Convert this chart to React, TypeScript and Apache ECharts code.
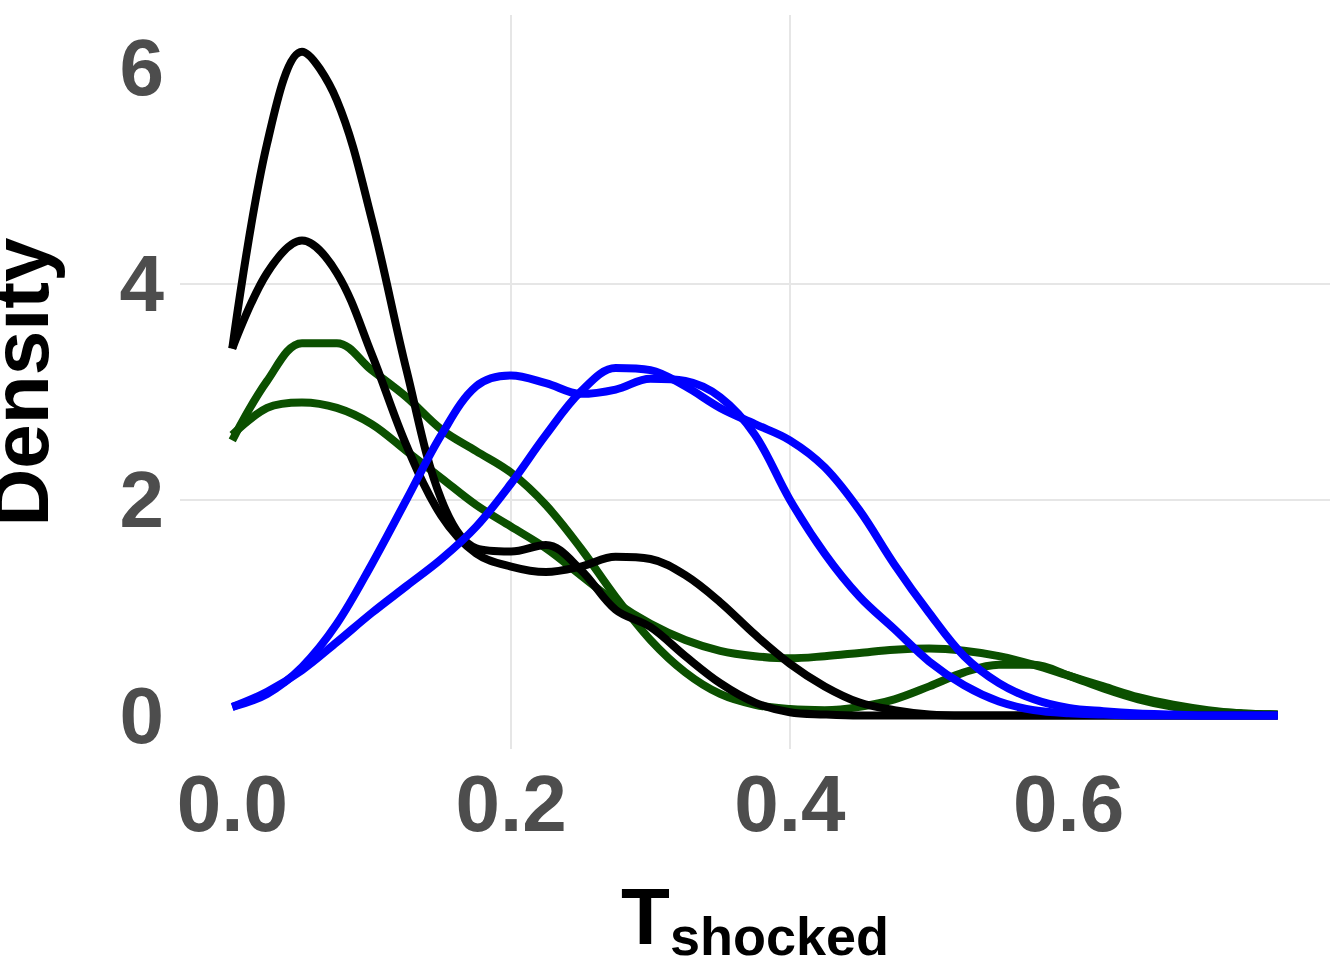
import { useEffect, useRef } from "react";
import * as echarts from "echarts";

const xs = [0, 0.025, 0.05, 0.075, 0.1, 0.125, 0.15, 0.175, 0.2, 0.225, 0.25, 0.275, 0.3, 0.325, 0.35, 0.375, 0.4, 0.425, 0.45, 0.475, 0.5, 0.525, 0.55, 0.575, 0.6, 0.625, 0.65, 0.675, 0.7, 0.725, 0.75];

const black1 = [3.4, 5.3, 6.15, 5.7, 4.6, 3.2, 2.0, 1.55, 1.52, 1.58, 1.35, 0.98, 0.82, 0.55, 0.3, 0.12, 0.03, 0.01, 0, 0, 0, 0, 0, 0, 0, 0, 0, 0, 0, 0, 0];
const black2 = [3.4, 4.1, 4.4, 4.1, 3.35, 2.5, 1.85, 1.5, 1.38, 1.33, 1.38, 1.47, 1.45, 1.3, 1.05, 0.75, 0.48, 0.27, 0.12, 0.05, 0.01, 0, 0, 0, 0, 0, 0, 0, 0, 0, 0];
const green1 = [2.55, 3.1, 3.45, 3.45, 3.2, 2.95, 2.65, 2.45, 2.25, 1.95, 1.55, 1.1, 0.7, 0.4, 0.2, 0.1, 0.06, 0.05, 0.08, 0.15, 0.27, 0.4, 0.47, 0.47, 0.37, 0.25, 0.15, 0.08, 0.04, 0.02, 0.01];
const green2 = [2.6, 2.85, 2.9, 2.85, 2.7, 2.45, 2.2, 1.95, 1.75, 1.55, 1.3, 1.05, 0.85, 0.7, 0.6, 0.55, 0.53, 0.55, 0.58, 0.61, 0.62, 0.6, 0.55, 0.47, 0.37, 0.27, 0.17, 0.1, 0.05, 0.02, 0.01];
const blue1 = [0.08, 0.2, 0.45, 0.85, 1.4, 2.0, 2.6, 3.05, 3.15, 3.08, 2.98, 3.02, 3.12, 3.1, 2.95, 2.6, 2.0, 1.5, 1.1, 0.8, 0.5, 0.28, 0.13, 0.05, 0.02, 0.01, 0, 0, 0, 0, 0];
const blue2 = [0.08, 0.22, 0.42, 0.68, 0.95, 1.2, 1.45, 1.75, 2.15, 2.6, 3.0, 3.22, 3.2, 3.05, 2.85, 2.7, 2.55, 2.3, 1.9, 1.4, 0.95, 0.55, 0.3, 0.15, 0.07, 0.04, 0.02, 0.01, 0, 0, 0];

const xTicks = [0, 0.2, 0.4, 0.6];
const yTicks = [0, 2, 4, 6];

const curves: [number[], string][] = [
  [green1, "#0b5000"], [green2, "#0b5000"],
  [black1, "#000000"], [black2, "#000000"],
  [blue1, "#0000ff"], [blue2, "#0000ff"],
];

const FONT = "Liberation Sans, Arial";

export default function App() {
  const ref = useRef<HTMLDivElement>(null);
  useEffect(() => {
    document.body.style.margin = "0";
    const chart = echarts.init(ref.current!, null, { renderer: "svg" });
    chart.setOption({
      animation: false,
      backgroundColor: "#fff",
      grid: { left: 180, right: 14, top: 15, bottom: 211, outerBoundsMode: "none", containLabel: false },
      xAxis: {
        type: "value", min: -0.0375, max: 0.7875,
        axisLine: { show: false },
        axisTick: { show: false, customValues: xTicks },
        splitLine: { lineStyle: { color: "#e6e6e6", width: 2 }, showMinLine: false, showMaxLine: false },
        axisLabel: {
          color: "#4d4d4d", fontSize: 80, fontWeight: "bold", fontFamily: FONT, margin: 14,
          customValues: xTicks,
          formatter: (v: number) => v.toFixed(1),
        },
        name: "{t|T}{s|shocked}", nameLocation: "middle", nameGap: 120,
        nameTextStyle: {
          rich: {
            t: { fontSize: 80, fontWeight: "bold", color: "#000", fontFamily: FONT },
            s: { fontSize: 54, fontWeight: "bold", color: "#000", fontFamily: FONT, padding: [40, 0, 0, 0] },
          },
        },
      },
      yAxis: {
        type: "value", min: -0.31, max: 6.49,
        axisLine: { show: false },
        axisTick: { show: false, customValues: yTicks },
        splitLine: { lineStyle: { color: "#e6e6e6", width: 2 }, showMinLine: false, showMaxLine: false },
        axisLabel: {
          color: "#4d4d4d", fontSize: 80, fontWeight: "bold", fontFamily: FONT, margin: 16,
          customValues: yTicks,
        },
        name: "Density", nameLocation: "middle", nameGap: 120,
        nameTextStyle: { fontSize: 80, fontWeight: "bold", color: "#000", fontFamily: FONT },
      },
      series: curves.map(([d, c]) => ({
        type: "line", smooth: 0.35, showSymbol: false,
        data: xs.map((x, i) => [x, d[i]]),
        lineStyle: { color: c, width: 8 },
      })),
    });
    return () => chart.dispose();
  }, []);
  return <div ref={ref} style={{ width: 1344, height: 960 }} />;
}
